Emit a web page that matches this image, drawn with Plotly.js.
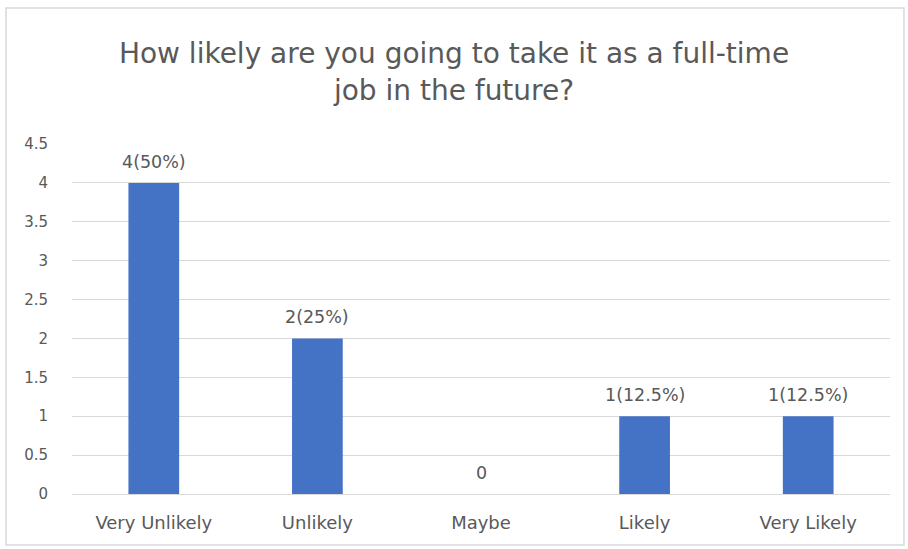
<!DOCTYPE html>
<html>
<head>
<meta charset="utf-8">
<script src="https://cdn.plot.ly/plotly-3.0.1.min.js"></script>
<style>
html,body{margin:0;padding:0;background:#fff;}
#chart{width:908px;height:549px;}
</style>
</head>
<body>
<div id="chart"></div>
<script>
const categories = ["Very Unlikely", "Unlikely", "Maybe", "Likely", "Very Likely"];
const counts = [4, 2, 0, 1, 1];
const labels = ["4(50%)", "2(25%)", "0", "1(12.5%)", "1(12.5%)"];
const yTicks = [0, 0.5, 1, 1.5, 2, 2.5, 3, 3.5, 4, 4.5];

const font = "'DejaVu Sans', sans-serif";
const gray = "#595959";

const trace = {
  type: "bar",
  x: categories,
  y: counts,
  marker: {color: "#4472C4"},
  hoverinfo: "x+y"
};

const annotations = categories.map((c, i) => ({
  x: c, y: counts[i], xref: "x", yref: "y",
  text: labels[i],
  showarrow: false,
  xanchor: "center", yanchor: "middle",
  yshift: 21,
  font: {family: font, size: 17.5, color: gray}
}));

const layout = {
  width: 908,
  height: 549,
  margin: {l: 72, r: 18, t: 144, b: 55},
  paper_bgcolor: "#fff",
  plot_bgcolor: "#fff",
  bargap: 0.69,
  showlegend: false,
  title: {
    text: "How likely are you going to take it as a full-time<br>job in the future?",
    font: {family: font, size: 28, color: gray},
    x: 0.5, xanchor: "center",
    y: 0.885, yanchor: "middle"
  },
  xaxis: {
    showgrid: false,
    showline: false,
    zeroline: false,
    ticks: "outside",
    ticklen: 12,
    tickcolor: "rgba(0,0,0,0)",
    tickfont: {family: font, size: 18, color: gray}
  },
  yaxis: {
    range: [0, 4.5],
    tickvals: yTicks,
    showgrid: true,
    gridcolor: "#d9d9d9",
    gridwidth: 1,
    zeroline: true,
    zerolinecolor: "#d9d9d9",
    zerolinewidth: 1,
    showline: false,
    ticks: "outside",
    ticklen: 20,
    tickcolor: "rgba(0,0,0,0)",
    tickfont: {family: font, size: 15, color: gray}
  },
  annotations: annotations,
  shapes: [{
    type: "rect",
    xref: "paper", yref: "paper",
    x0: -0.0807, x1: 1.0171,
    y0: -0.1457, y1: 1.3886,
    line: {color: "#d9d9d9", width: 1.5},
    fillcolor: "rgba(0,0,0,0)",
    layer: "below"
  }]
};

Plotly.newPlot("chart", [trace], layout, {displayModeBar: false, staticPlot: true});
</script>
</body>
</html>
